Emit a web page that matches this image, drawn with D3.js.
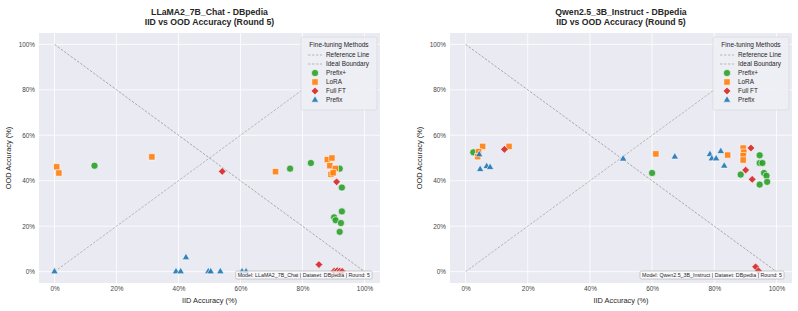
<!DOCTYPE html>
<html lang="en">
  <head>
    <meta charset="utf-8">
    <title>IID vs OOD Accuracy</title>
    <script src="https://d3js.org/d3.v7.js"></script>
    <style>
      body { margin: 0; background: white; }
      text { font-family: "Liberation Sans", Arial, sans-serif; fill: #262626; }
    </style>
  </head>
  <body>
    <script>

      // data: [iid %, ood %] pairs

      const methods = ["Prefix+", "LoRA", "Full FT", "Prefix"];
      const tickValues = [0, 20, 40, 60, 80, 100];

      const llamaPrefixPlus = [[12.9, 46.6], [76, 45.3], [82.7, 47.8], [92, 45.3], [92.7, 37], [92.7, 26.5],
                               [90.2, 23.9], [90.7, 22.6], [92.4, 21.4], [92, 17.5]];
      const llamaLoRA = [[0.7, 46.1], [1.4, 43.4], [31.4, 50.5], [71.3, 44], [88, 49.3], [89.5, 50],
                         [88.8, 46.6], [90.6, 45.4], [89.2, 42.8], [89.9, 43.5]];
      const llamaFullFT = [[54.1, 44.1], [91, 39.5], [85.3, 3.1], [90.2, 0.2], [91.2, 0.4], [92, 0.2], [92.8, 0.1]];
      const llamaPrefix = [[0, 0], [42.4, 6.2], [39.2, 0], [40.7, 0], [49.6, 0], [50.4, 0], [53.5, 0],
                           [60.5, 0], [61.8, 0]];

      const qwenPrefixPlus = [[2.5, 52.5], [60, 43.4], [94.6, 51.2], [94.6, 47.8], [95.5, 47.8], [88.5, 42.7],
                              [96, 43.4], [96.8, 42.2], [97, 39.5], [94.6, 38.3]];
      const qwenLoRA = [[5.5, 55.1], [4.2, 52.8], [3.9, 50.6], [14, 55.1], [61.2, 51.8], [84.3, 51.3],
                        [89.3, 54.4], [89.5, 52.5], [89.3, 51], [89.3, 49.1]];
      const qwenFullFT = [[12.5, 53.8], [91.8, 54.4], [90.1, 44.7], [92.2, 40.6], [93.3, 2.1], [94.2, 0.4]];
      const qwenPrefix = [[4.4, 51.5], [4.7, 45], [6.8, 46.3], [7.9, 45.9], [50.7, 49.6], [67.3, 50.5],
                          [78.6, 51.6], [79.2, 49.7], [80.6, 49.7], [82.1, 52.9], [83.2, 46.5]];

      const panels = [
        {model: "LLaMA2_7B_Chat", left: 39, right: 380,
         series: [llamaPrefixPlus, llamaLoRA, llamaFullFT, llamaPrefix]},
        {model: "Qwen2.5_3B_Instruct", left: 450, right: 792,
         series: [qwenPrefixPlus, qwenLoRA, qwenFullFT, qwenPrefix]}
      ];

      const w = 798;
      const h = 311;
      const plotTop = 33;
      const plotBottom = 283;

      const colors = ["#2ca02c", "#ff7f0e", "#d62728", "#1f77b4"];
      const shapes = [
        d3.symbol().type(d3.symbolCircle).size(40),
        d3.symbol().type(d3.symbolSquare).size(40),
        d3.symbol().type(d3.symbolSquare).size(30),
        d3.symbol().type(d3.symbolTriangle).size(24)
      ];
      const rotate = [0, 0, 45, 0];

      const svg = d3.select("body")
                    .append("svg")
                    .attr("width", w)
                    .attr("height", h);

      svg.append("rect")
         .attr("width", w)
         .attr("height", h)
         .attr("fill", "white");

      panels.forEach(p => {

        const xScale = d3.scaleLinear()
                         .domain([-5, 105])
                         .range([p.left, p.right]);

        const yScale = d3.scaleLinear()
                         .domain([-5, 105])
                         .range([plotBottom, plotTop]);

        const g = svg.append("g");

        // plot background and grid

        g.append("rect")
         .attr("x", p.left)
         .attr("y", plotTop)
         .attr("width", p.right - p.left)
         .attr("height", plotBottom - plotTop)
         .attr("fill", "#eaeaf2");

        g.selectAll(".vgrid")
         .data(tickValues)
         .join("line")
         .attr("x1", d => xScale(d))
         .attr("x2", d => xScale(d))
         .attr("y1", plotTop)
         .attr("y2", plotBottom)
         .attr("stroke", "white")
         .attr("stroke-width", 0.8);

        g.selectAll(".hgrid")
         .data(tickValues)
         .join("line")
         .attr("y1", d => yScale(d))
         .attr("y2", d => yScale(d))
         .attr("x1", p.left)
         .attr("x2", p.right)
         .attr("stroke", "white")
         .attr("stroke-width", 0.8);

        // axes

        const xAxis = d3.axisBottom(xScale)
                        .tickValues(tickValues)
                        .tickSize(0)
                        .tickPadding(3)
                        .tickFormat(d => d + "%");

        const yAxis = d3.axisLeft(yScale)
                        .tickValues(tickValues)
                        .tickSize(0)
                        .tickPadding(4)
                        .tickFormat(d => d + "%");

        const gx = g.append("g")
                    .attr("transform", `translate(0, ${plotBottom})`)
                    .call(xAxis);

        const gy = g.append("g")
                    .attr("transform", `translate(${p.left}, 0)`)
                    .call(yAxis);

        [gx, gy].forEach(a => {
          a.select(".domain").remove();
          a.selectAll("text")
           .attr("font-size", 6.4)
           .style("fill", "#444");
        });

        // reference line and ideal boundary

        g.append("line")
         .attr("x1", xScale(0)).attr("y1", yScale(100))
         .attr("x2", xScale(100)).attr("y2", yScale(0))
         .attr("stroke", "#999")
         .attr("stroke-width", 0.8)
         .attr("stroke-dasharray", "2.5,1.5");

        g.append("line")
         .attr("x1", xScale(0)).attr("y1", yScale(0))
         .attr("x2", xScale(100)).attr("y2", yScale(100))
         .attr("stroke", "#aaa")
         .attr("stroke-width", 0.8)
         .attr("stroke-dasharray", "2.5,1.5");

        // points

        p.series.forEach((s, i) => {
          g.append("g")
           .selectAll("path")
           .data(s)
           .join("path")
           .attr("d", shapes[i])
           .attr("transform", d => `translate(${xScale(d[0])}, ${yScale(d[1])}) rotate(${rotate[i]})`)
           .attr("fill", colors[i])
           .attr("fill-opacity", 0.9)
           .attr("stroke", "white")
           .attr("stroke-width", 0.6);
        });

        // titles and labels

        const cx = (p.left + p.right) / 2;

        g.append("text")
         .attr("x", cx).attr("y", 15)
         .attr("text-anchor", "middle")
         .attr("font-size", 8.7)
         .attr("font-weight", "bold")
         .text(`${p.model} - DBpedia`);

        g.append("text")
         .attr("x", cx).attr("y", 24.5)
         .attr("text-anchor", "middle")
         .attr("font-size", 8.7)
         .attr("font-weight", "bold")
         .text("IID vs OOD Accuracy (Round 5)");

        g.append("text")
         .attr("x", cx).attr("y", 303)
         .attr("text-anchor", "middle")
         .attr("font-size", 7.4)
         .style("fill", "#262626")
         .text("IID Accuracy (%)");

        g.append("text")
         .attr("transform", `translate(${p.left - 28}, ${(plotTop + plotBottom) / 2}) rotate(-90)`)
         .attr("text-anchor", "middle")
         .attr("font-size", 7.4)
         .text("OOD Accuracy (%)");

        // annotation box

        const note = g.append("g");
        const noteText = note.append("text")
                             .attr("x", p.right - 10)
                             .attr("y", 277)
                             .attr("text-anchor", "end")
                             .attr("font-size", 5.3)
                             .text(`Model: ${p.model} | Dataset: DBpedia | Round: 5`);
        const bb = noteText.node().getBBox();
        note.insert("rect", "text")
            .attr("x", bb.x - 2)
            .attr("y", bb.y - 1)
            .attr("width", bb.width + 4)
            .attr("height", bb.height + 2)
            .attr("rx", 1.5)
            .attr("fill", "white")
            .attr("fill-opacity", 0.75)
            .attr("stroke", "#aaa")
            .attr("stroke-width", 0.6);

        // legend

        const lx = p.right - 79;
        const ly = 37;
        const legend = g.append("g");

        legend.append("rect")
              .attr("x", lx)
              .attr("y", ly)
              .attr("width", 76)
              .attr("height", 73)
              .attr("rx", 2)
              .attr("fill", "#eeeef4")
              .attr("fill-opacity", 0.95)
              .attr("stroke", "#d4d4dc")
              .attr("stroke-width", 0.6);

        legend.append("text")
              .attr("x", lx + 38)
              .attr("y", ly + 10)
              .attr("text-anchor", "middle")
              .attr("font-size", 6.5)
              .text("Fine-tuning Methods");

        ["Reference Line", "Ideal Boundary"].forEach((label, i) => {
          const y = ly + 18 + i * 9;
          legend.append("line")
                .attr("x1", lx + 7).attr("x2", lx + 21)
                .attr("y1", y).attr("y2", y)
                .attr("stroke", "#aaa")
                .attr("stroke-width", 0.8)
                .attr("stroke-dasharray", "2.5,1.5");
          legend.append("text")
                .attr("x", lx + 25)
                .attr("y", y + 2)
                .attr("font-size", 6.4)
                .text(label);
        });

        methods.forEach((m, i) => {
          const y = ly + 36 + i * 9;
          legend.append("path")
                .attr("d", shapes[i])
                .attr("transform", `translate(${lx + 14}, ${y}) rotate(${rotate[i]})`)
                .attr("fill", colors[i])
                .attr("fill-opacity", 0.9)
                .attr("stroke", "white")
                .attr("stroke-width", 0.6);
          legend.append("text")
                .attr("x", lx + 25)
                .attr("y", y + 2)
                .attr("font-size", 6.4)
                .text(m);
        });
      });

    </script>
  </body>
</html>
